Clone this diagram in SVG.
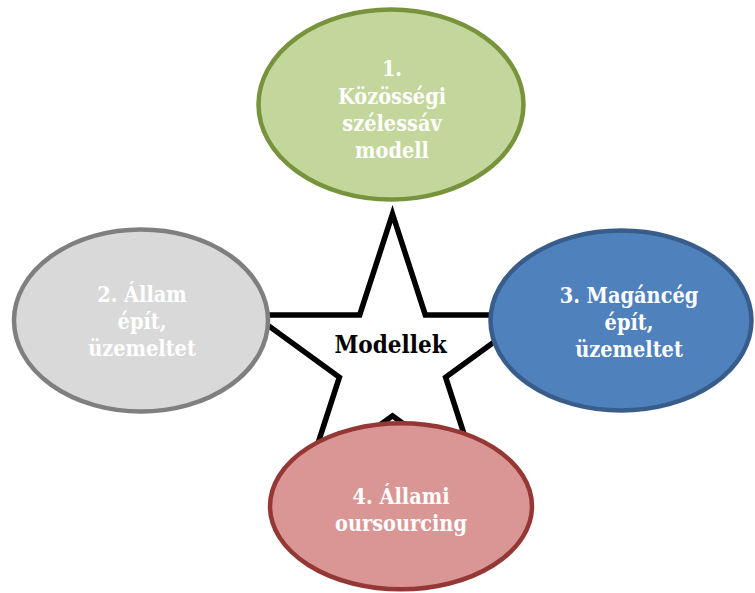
<svg xmlns="http://www.w3.org/2000/svg" width="755" height="593" viewBox="0 0 755 593">
  <style>
    .lbl { font-family: "DejaVu Serif Condensed", "DejaVu Serif", "Liberation Serif", serif; font-stretch: condensed; font-weight: bold; font-size: 21.5px; fill: #FFFFFF; text-anchor: middle; }
    .center { font-family: "DejaVu Serif Condensed", "DejaVu Serif", "Liberation Serif", serif; font-stretch: condensed; font-weight: bold; font-size: 24px; fill: #000000; text-anchor: middle; }
    .node { stroke-width: 4.5; }
  </style>
  <rect x="0" y="0" width="755" height="593" fill="#FFFFFF"/>

  <!-- central star joining the four models -->
  <g id="connectors">
    <polygon points="392.5,214 425.3,314.9 531.4,314.9 445.6,377.2 478.3,478.1 392.5,415.8 306.7,478.1 339.4,377.2 253.6,314.9 359.7,314.9"
             fill="#FFFFFF" stroke="#000000" stroke-width="5.5" stroke-linejoin="miter"/>
  </g>

  <g id="hub">
    <text class="center" x="390.5" y="352.5">Modellek</text>
  </g>

  <g id="node1">
    <ellipse class="node" cx="391" cy="104.5" rx="132.5" ry="95" fill="#C3D69B" stroke="#77933C"/>
    <text class="lbl" x="392" y="75.5">1.</text>
    <text class="lbl" x="392" y="103.5">Közösségi</text>
    <text class="lbl" x="392" y="130.5">szélessáv</text>
    <text class="lbl" x="392" y="157.5">modell</text>
  </g>

  <g id="node2">
    <ellipse class="node" cx="141" cy="320.5" rx="127" ry="91" fill="#D9D9D9" stroke="#7F7F7F"/>
    <text class="lbl" x="142" y="302">2. Állam</text>
    <text class="lbl" x="142" y="329">épít,</text>
    <text class="lbl" x="142" y="356">üzemeltet</text>
  </g>

  <g id="node3">
    <ellipse class="node" cx="621" cy="320.5" rx="130.5" ry="90" fill="#4F81BD" stroke="#385D8A"/>
    <text class="lbl" x="629" y="303">3. Magáncég</text>
    <text class="lbl" x="629" y="330">épít,</text>
    <text class="lbl" x="629" y="357">üzemeltet</text>
  </g>

  <g id="node4">
    <ellipse class="node" cx="401" cy="506.3" rx="131" ry="83" fill="#D99694" stroke="#953735"/>
    <text class="lbl" x="401" y="503.5">4. Állami</text>
    <text class="lbl" x="401" y="530.5">oursourcing</text>
  </g>
</svg>
